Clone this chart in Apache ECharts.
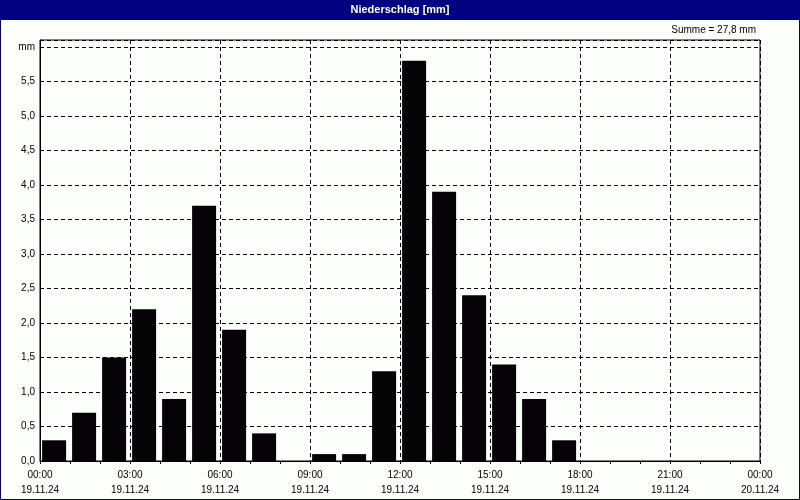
<!DOCTYPE html>
<html><head><meta charset="utf-8">
<script src="https://cdn.jsdelivr.net/npm/echarts@6/dist/echarts.min.js"></script>
<style>html,body{margin:0;padding:0;background:#fcfefc;}#c{width:800px;height:500px;}</style>
</head><body><div id="c"></div>
<script>
var hours = ["00:00","01:00","02:00","03:00","04:00","05:00","06:00","07:00","08:00","09:00","10:00","11:00","12:00","13:00","14:00","15:00","16:00","17:00","18:00","19:00","20:00","21:00","22:00","23:00"];
var precip = [0.3,0.7,1.5,2.2,0.9,3.7,1.9,0.4,0,0.1,0.1,1.3,5.8,3.9,2.4,1.4,0.9,0.3,0,0,0,0,0,0];
var xTickLabels = ["00:00\n19.11.24","03:00\n19.11.24","06:00\n19.11.24","09:00\n19.11.24","12:00\n19.11.24","15:00\n19.11.24","18:00\n19.11.24","21:00\n19.11.24","00:00\n20.11.24"];
var titleText = "Niederschlag [mm]";
var sumText = "Summe = 27,8 mm";
var yUnit = "mm";

var chart = echarts.init(document.getElementById('c'), null, {renderer:'canvas'});
var font = "'Liberation Sans', Arial, sans-serif";
chart.setOption({
  backgroundColor: '#fcfefc',
  animation: false,
  graphic: [
    {type:'rect', shape:{x:0, y:0, width:800, height:20}, style:{fill:'#000080'}, z:10},
    {type:'rect', shape:{x:0.5, y:0.5, width:799, height:499}, style:{fill:'none', stroke:'#000080', lineWidth:1}, z:10},
    {type:'text', left:'center', top:4, style:{text:titleText, fill:'#ffffff', font:'bold 11px ' + font}, z:11},
    {type:'text', right:44, top:25, style:{text:sumText, fill:'#000', font:'10px ' + font}, z:11}
  ],
  grid: {left:40, top:40, width:720, bottom:39, show:true, borderColor:'#000', borderWidth:1, backgroundColor:'transparent'},
  xAxis: {
    type:'value', min:0, max:24, interval:3,
    axisLine:{show:true, lineStyle:{color:'#000', width:1}},
    axisTick:{show:true, length:3, inside:false, lineStyle:{color:'#000'}},
    minorTick:{show:true, splitNumber:3, length:3, lineStyle:{color:'#000'}},
    splitLine:{show:true, lineStyle:{color:'#000', type:[4,3], width:1}},
    axisLabel:{color:'#000', fontFamily:font, fontSize:10, lineHeight:15, margin:7,
      formatter:function(v){ var i = Math.round(v/3); return xTickLabels[i] || ''; }}
  },
  yAxis: {
    type:'value', min:0, max:6.1, interval:0.5,
    axisLine:{show:true, lineStyle:{color:'#000'}},
    axisTick:{show:false},
    splitLine:{show:true, lineStyle:{color:'#000', type:[4,3], width:1}},
    axisLabel:{color:'#000', fontFamily:font, fontSize:10, margin:5, showMaxLabel:false,
      formatter:function(v){
        if (Math.abs(v-6) < 1e-6) return yUnit;
        if (Math.abs(v*2 - Math.round(v*2)) > 1e-6) return '';
        return v.toFixed(1).replace('.', ',');
      }}
  },
  series: [{
    type:'bar', barWidth:24,
    itemStyle:{color:'#050305'},
    data: precip.map(function(v,i){ return [i+0.47, v]; }),
    z:3
  }]
});
</script></body></html>
